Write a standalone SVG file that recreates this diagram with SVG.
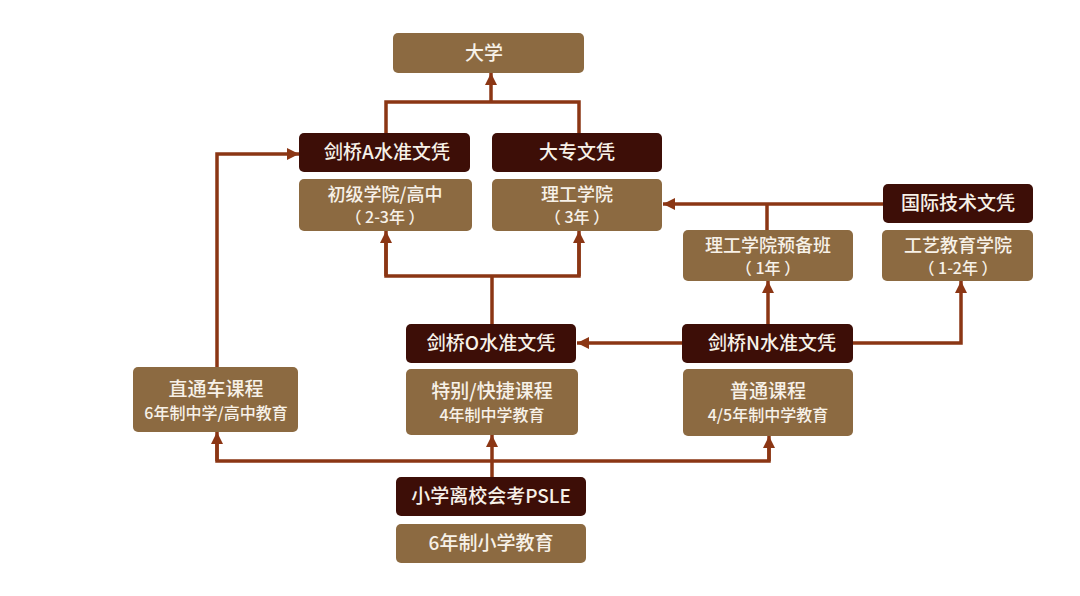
<svg xmlns="http://www.w3.org/2000/svg" width="1080" height="596" viewBox="0 0 1080 596">
<defs>
<marker id="arr" viewBox="0 0 12 12" refX="12" refY="6" markerWidth="12" markerHeight="12" markerUnits="userSpaceOnUse" orient="auto">
<path d="M0,0 L12,6 L0,12 z" fill="#8b3614"/>
</marker>
<style>
.dark{fill:#3d0e07}
.light{fill:#8c6a41}
text{font-family:"Noto Sans CJK SC","Noto Sans",sans-serif;font-weight:500;text-anchor:middle;fill:#f7f1e8}
.m{font-size:19px}
.t{font-size:18px}
.s{font-size:16px}
.c{fill:none;stroke:#8b3614;stroke-width:3.5}
</style>
</defs>
<rect width="1080" height="596" fill="#ffffff"/>
<g id="connectors">
<polyline class="c" points="386,133 386,102 579,102 579,133"/>
<line class="c" x1="491" y1="102" x2="491" y2="73" marker-end="url(#arr)"/>
<line class="c" x1="883" y1="204" x2="663" y2="204" marker-end="url(#arr)"/>
<line class="c" x1="767" y1="230" x2="767" y2="204"/>
<line class="c" x1="492" y1="324" x2="492" y2="276"/>
<polyline class="c" points="386,240 386,276 579,276 579,240"/>
<line class="c" x1="386" y1="276" x2="386" y2="231" marker-end="url(#arr)"/>
<line class="c" x1="579" y1="276" x2="579" y2="231" marker-end="url(#arr)"/>
<line class="c" x1="682" y1="343" x2="577" y2="343" marker-end="url(#arr)"/>
<line class="c" x1="768" y1="324" x2="768" y2="281" marker-end="url(#arr)"/>
<polyline class="c" points="853,343 961,343 961,281" marker-end="url(#arr)"/>
<polyline class="c" points="217,367 217,154 299,154" marker-end="url(#arr)"/>
<line class="c" x1="492" y1="477" x2="492" y2="435" marker-end="url(#arr)"/>
<polyline class="c" points="217,440 217,461 769,461 769,444"/>
<line class="c" x1="217" y1="461" x2="217" y2="432" marker-end="url(#arr)"/>
<line class="c" x1="769" y1="461" x2="769" y2="436" marker-end="url(#arr)"/>
</g>
<g id="n-daxue"><rect class="light" x="393" y="33" width="191" height="40" rx="5"/><text class="m" x="484" y="60">大学</text></g>
<g id="n-alevel"><rect class="dark" x="299" y="133" width="171" height="39" rx="5"/><text class="m" x="387" y="159">剑桥A水准文凭</text></g>
<g id="n-diploma"><rect class="dark" x="492" y="133" width="170" height="39" rx="5"/><text class="m" x="577" y="159">大专文凭</text></g>
<g id="n-jc"><rect class="light" x="299" y="179" width="173" height="52" rx="5"/><text class="t" x="385" y="201">初级学院/高中</text><text class="s" x="385" y="223">（ 2-3年 ）</text></g>
<g id="n-poly"><rect class="light" x="492" y="179" width="170" height="52" rx="5"/><text class="t" x="577" y="201">理工学院</text><text class="s" x="577" y="223">（ 3年 ）</text></g>
<g id="n-nitec"><rect class="dark" x="883" y="184" width="150" height="39" rx="5"/><text class="m" x="958" y="210">国际技术文凭</text></g>
<g id="n-pfp"><rect class="light" x="683" y="230" width="170" height="51" rx="5"/><text class="t" x="768" y="252">理工学院预备班</text><text class="s" x="768" y="274">（ 1年 ）</text></g>
<g id="n-ite"><rect class="light" x="882" y="230" width="151" height="51" rx="5"/><text class="t" x="958" y="252">工艺教育学院</text><text class="s" x="958" y="274">（ 1-2年 ）</text></g>
<g id="n-olevel"><rect class="dark" x="406" y="324" width="170" height="39" rx="5"/><text class="m" x="491" y="350">剑桥O水准文凭</text></g>
<g id="n-nlevel"><rect class="dark" x="682" y="324" width="171" height="39" rx="5"/><text class="m" x="772" y="350">剑桥N水准文凭</text></g>
<g id="n-ip"><rect class="light" x="133" y="367" width="165" height="65" rx="5"/><text class="m" x="216" y="396">直通车课程</text><text class="s" x="216" y="419">6年制中学/高中教育</text></g>
<g id="n-express"><rect class="light" x="406" y="369" width="172" height="66" rx="5"/><text class="m" x="492" y="398">特别/快捷课程</text><text class="s" x="492" y="421">4年制中学教育</text></g>
<g id="n-normal"><rect class="light" x="683" y="369" width="170" height="67" rx="5"/><text class="m" x="768" y="398">普通课程</text><text class="s" x="768" y="421">4/5年制中学教育</text></g>
<g id="n-psle"><rect class="dark" x="396" y="477" width="190" height="39" rx="5"/><text class="m" x="491" y="503">小学离校会考PSLE</text></g>
<g id="n-primary"><rect class="light" x="396" y="524" width="190" height="39" rx="5"/><text class="m" x="491" y="550">6年制小学教育</text></g>
</svg>
